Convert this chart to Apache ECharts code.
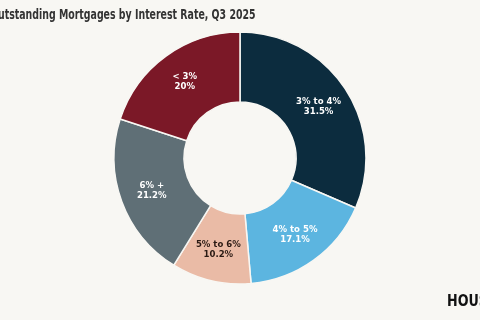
<!DOCTYPE html>
<html><head><meta charset="utf-8">
<script src="https://cdn.jsdelivr.net/npm/echarts@6/dist/echarts.min.js"></script>
<style>html,body{margin:0;padding:0;background:#f8f7f3;}#c{width:480px;height:320px;}</style>
</head><body><div id="c"></div>
<script>
const categories = ["3% to 4%", "4% to 5%", "5% to 6%", "6% +", "< 3%"];
const values = [31.5, 17.1, 10.2, 21.2, 20];
const valueLabels = ["31.5%", "17.1%", "10.2%", "21.2%", "20%"];
const colors = ["#0c2c3e", "#5cb5e0", "#eabba6", "#5f6f76", "#7b1827"];
const labelColors = ["#ffffff", "#ffffff", "#2a1a14", "#ffffff", "#ffffff"];

const chart = echarts.init(document.getElementById('c'));
chart.setOption({
  backgroundColor: '#f8f7f3',
  animation: false,
  graphic: [{
    type: 'text', x: -10, y: 8, scaleX: 0.72,
    style: { text: 'Outstanding Mortgages by Interest Rate, Q3 2025', fontFamily: 'DejaVu Sans Condensed, sans-serif', fontWeight: 'bold', fontSize: 14.5, fill: '#333333' }
  }, {
    type: 'text', x: 447, y: 295, scaleX: 0.85,
    style: { text: 'HOUSING', fontFamily: 'DejaVu Sans, sans-serif', fontWeight: 900, fontSize: 15, fill: '#111111' }
  }],
  series: [{
    type: 'pie',
    center: [240, 158],
    radius: [56, 126],
    startAngle: 90,
    clockwise: true,
    itemStyle: { borderColor: '#f8f7f3', borderWidth: 1.5 },
    label: {
      position: 'inside',
      fontFamily: 'DejaVu Sans Condensed, sans-serif',
      fontWeight: 'bold', fontSize: 9.5, lineHeight: 10,
      formatter: p => p.name + '\n' + valueLabels[p.dataIndex]
    },
    labelLine: { show: false },
    data: categories.map((c, i) => ({
      name: c, value: values[i],
      itemStyle: { color: colors[i] },
      label: { color: labelColors[i] }
    }))
  }]
});
</script></body></html>
